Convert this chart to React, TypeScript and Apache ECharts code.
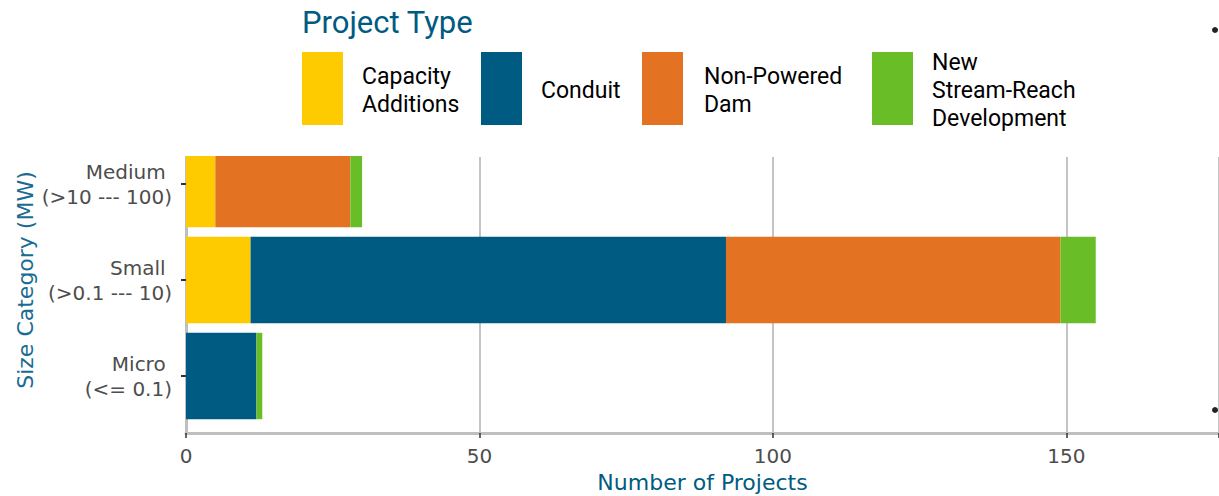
import React, { useEffect, useRef } from "react";
import * as echarts from "echarts";

const categories = ["Micro \n(<= 0.1)", "Small \n(>0.1 --- 10)", "Medium \n(>10 --- 100)"];
const seriesNames = ["Capacity Additions", "Conduit", "Non-Powered Dam", "New Stream-Reach Development"];
const legendLabels = ["Capacity\nAdditions", "Conduit", "Non-Powered\nDam", "New\nStream-Reach\nDevelopment"];
const capacityAdditions = [0, 11, 5];
const conduit = [12, 81, 0];
const nonPoweredDam = [0, 57, 23];
const newStreamReach = [1, 6, 2];
const xTickInterval = 50;
const xMax = 176;

const colors = ["#FECB00", "#005B82", "#E37222", "#69BE28"];
const legendKeyX = [302, 481, 642, 872];
const legendTextX = [362, 541, 704, 932];

export default function App() {
  const ref = useRef<HTMLDivElement>(null);
  useEffect(() => {
    if (!ref.current) return;
    const chart = echarts.init(ref.current, null, { renderer: "svg" });
    const values = [capacityAdditions, conduit, nonPoweredDam, newStreamReach];
    const legendGraphics: any[] = [];
    legendKeyX.forEach((x, i) => {
      legendGraphics.push({
        type: "rect",
        shape: { x, y: 52, width: 41, height: 73 },
        style: { fill: colors[i] },
      });
      legendGraphics.push({
        type: "text",
        x: legendTextX[i],
        y: 90,
        style: {
          text: legendLabels[i],
          fill: "#000",
          font: '23px "Roboto", sans-serif',
          verticalAlign: "middle",
          align: "left",
          lineHeight: 28,
        },
      });
    });
    chart.setOption({
      animation: false,
      backgroundColor: "#fff",
      textStyle: { fontFamily: '"DejaVu Sans", sans-serif' },
      grid: [
        { left: 186, right: 0, top: 157, bottom: 63, outerBoundsMode: "none", containLabel: false },
        { left: 186, right: 0, top: 136, height: 288, outerBoundsMode: "none", containLabel: false },
      ],
      xAxis: [
        {
          gridIndex: 0,
          type: "value",
          min: 0,
          max: xMax,
          interval: xTickInterval,
          axisLine: { show: true, lineStyle: { color: "#bfbfbf", width: 3 } },
          axisTick: { show: true, length: 5, lineStyle: { color: "#333", width: 1.5 } },
          splitLine: { show: true, lineStyle: { color: "#c4c4c4", width: 2 } },
          axisLabel: {
            color: "#4d4d4d",
            fontSize: 20,
            margin: 13,
            fontFamily: '"DejaVu Sans", sans-serif',
            formatter: (v: number) => (v % xTickInterval === 0 && v <= 150 ? String(v) : ""),
          },
          name: "Number of Projects",
          nameLocation: "middle",
          nameGap: 38,
          nameMoveOverlap: false,
          nameTextStyle: {
            color: "#005B82",
            fontSize: 22,
            fontWeight: "normal",
            fontFamily: '"DejaVu Sans", sans-serif',
            verticalAlign: "top",
          },
        },
        { gridIndex: 1, type: "value", min: 0, max: xMax, show: false },
      ],
      yAxis: [
        {
          gridIndex: 0,
          type: "value",
          min: 0,
          max: 1,
          axisLine: { show: true, lineStyle: { color: "#bfbfbf", width: 3 } },
          axisTick: { show: false },
          axisLabel: { show: false },
          splitLine: { show: false },
        },
        {
          gridIndex: 1,
          type: "category",
          data: categories,
          axisLine: { show: false },
          axisTick: { show: true, alignWithLabel: true, length: 5, lineStyle: { color: "#333", width: 2 } },
          splitLine: { show: false },
          axisLabel: {
            color: "#4d4d4d",
            fontSize: 20,
            lineHeight: 25,
            margin: 14,
            align: "right",
            fontFamily: '"DejaVu Sans", sans-serif',
          },
          name: "Size Category (MW)",
          nameLocation: "middle",
          nameGap: 150,
          nameMoveOverlap: false,
          nameTextStyle: { color: "#1a6b91", fontSize: 22, fontFamily: '"DejaVu Sans", sans-serif' },
        },
      ],
      series: seriesNames.map((name, i) => ({
        name,
        type: "bar",
        stack: "total",
        xAxisIndex: 1,
        yAxisIndex: 1,
        barCategoryGap: "10%",
        data: values[i],
        itemStyle: { color: colors[i] },
      })),
      graphic: [
        {
          type: "rect",
          z: 100,
          shape: { x: 186, y: 131, width: 1033, height: 25 },
          style: { fill: "#fff" },
        },
        {
          type: "text",
          x: 302,
          y: 22,
          z: 101,
          style: {
            text: "Project Type",
            fill: "#005B82",
            font: '31px "Roboto", sans-serif',
            verticalAlign: "middle",
          },
        },
        ...legendGraphics.map((g) => ({ ...g, z: 101 })),
        { type: "circle", z: 101, shape: { cx: 1215, cy: 30, r: 3 }, style: { fill: "#222" } },
        { type: "circle", z: 101, shape: { cx: 1215, cy: 410, r: 3 }, style: { fill: "#222" } },
      ],
    });
    return () => chart.dispose();
  }, []);
  return (
    <div
      ref={ref}
      style={{ position: "fixed", left: 0, top: 0, width: 1219, height: 496 }}
    />
  );
}
